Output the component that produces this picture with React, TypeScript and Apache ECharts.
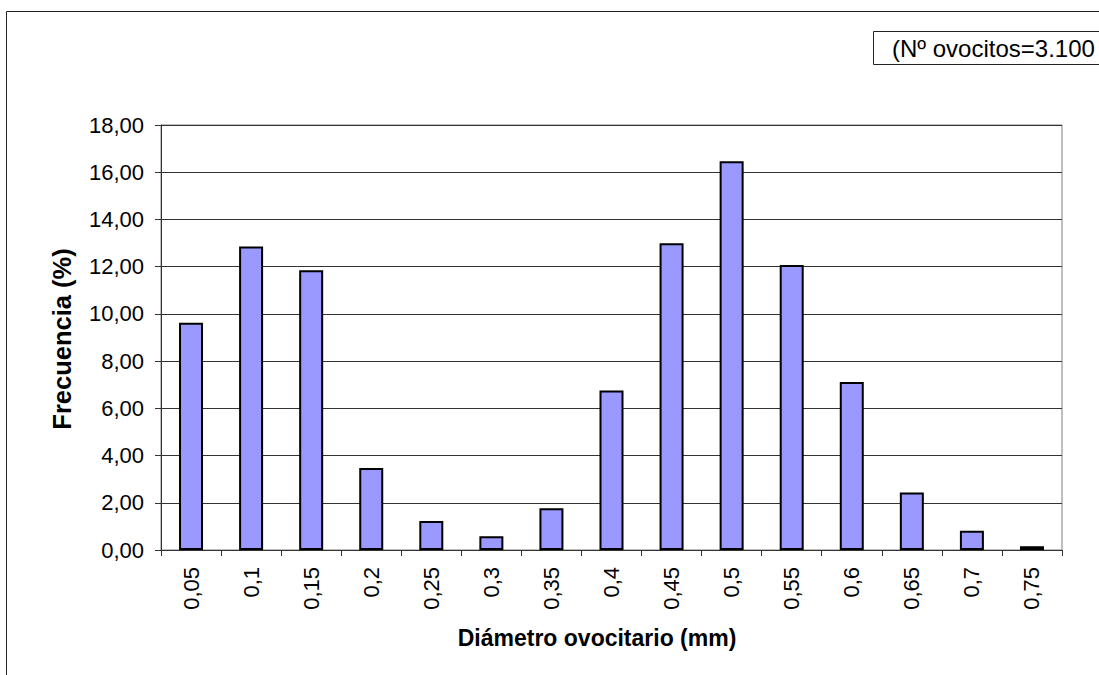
import React, { useEffect, useRef } from "react";
import * as echarts from "echarts";

const categories = ["0,05", "0,1", "0,15", "0,2", "0,25", "0,3", "0,35", "0,4", "0,45", "0,5", "0,55", "0,6", "0,65", "0,7", "0,75"];
const frecuencia = [9.63, 12.85, 11.85, 3.47, 1.23, 0.58, 1.77, 6.76, 12.99, 16.47, 12.07, 7.12, 2.44, 0.82, 0.16];
const yTicks = { min: 0, max: 18, interval: 2 };
const yAxisTitle = "Frecuencia (%)";
const xAxisTitle = "Diámetro ovocitario (mm)";
const noteText = "(Nº ovocitos=3.100";

const FONT = "Arial, 'Liberation Sans', sans-serif";

export default function App() {
  const ref = useRef<HTMLDivElement>(null);
  useEffect(() => {
    document.body.style.margin = "0";
    if (!ref.current) return;
    const chart = echarts.init(ref.current, undefined, { renderer: "svg" });
    chart.setOption({
      animation: false,
      backgroundColor: "#ffffff",
      textStyle: { fontFamily: FONT, color: "#000" },
      grid: {
        left: 161,
        right: 37,
        top: 125,
        bottom: 125,
        show: true,
        borderColor: "#808080",
        borderWidth: 1,
        backgroundColor: "transparent",
      },
      graphic: [
        {
          type: "rect",
          shape: { x: 6.5, y: 11.5, width: 1300, height: 900 },
          style: { fill: "none", stroke: "#222", lineWidth: 1 },
          silent: true,
          z: 100,
        },
        {
          type: "rect",
          shape: { x: 873.5, y: 31.5, width: 400, height: 33 },
          style: { fill: "#fff", stroke: "#222", lineWidth: 1 },
          silent: true,
          z: 100,
        },
        {
          type: "text",
          x: 892,
          y: 48,
          style: {
            text: noteText,
            fontFamily: FONT,
            fontSize: 24,
            fill: "#000",
            verticalAlign: "middle",
            align: "left",
          },
          silent: true,
          z: 101,
        },
        {
          type: "text",
          x: 597,
          y: 638,
          style: {
            text: xAxisTitle,
            fontFamily: FONT,
            fontSize: 23,
            fontWeight: "bold",
            fill: "#000",
            verticalAlign: "middle",
            align: "center",
          },
          silent: true,
          z: 101,
        },
        {
          type: "text",
          x: 62,
          y: 339,
          rotation: Math.PI / 2,
          style: {
            text: yAxisTitle,
            fontFamily: FONT,
            fontSize: 25.5,
            fontWeight: "bold",
            fill: "#000",
            verticalAlign: "middle",
            align: "center",
          },
          silent: true,
          z: 101,
        },
      ],
      xAxis: {
        type: "category",
        data: categories,
        axisLine: { lineStyle: { color: "#333", width: 1 } },
        axisTick: { show: true, length: 6, lineStyle: { color: "#333" } },
        axisLabel: { rotate: 90, margin: 17, fontFamily: FONT, fontSize: 22, color: "#000" },
      },
      yAxis: {
        type: "value",
        min: yTicks.min,
        max: yTicks.max,
        interval: yTicks.interval,
        axisLine: { show: true, lineStyle: { color: "#333", width: 1 } },
        axisTick: { show: true, length: 6, lineStyle: { color: "#333" } },
        axisLabel: {
          margin: 17,
          fontFamily: FONT,
          fontSize: 22,
          color: "#000",
          formatter: (v: number) => v.toFixed(2).replace(".", ","),
        },
        splitLine: { show: true, lineStyle: { color: "#333", width: 1 } },
      },
      series: [
        {
          type: "bar",
          data: frecuencia,
          barWidth: 24,
          itemStyle: { color: "#9999ff", borderColor: "#000", borderWidth: 2 },
        },
      ],
    });
    return () => chart.dispose();
  }, []);
  return <div ref={ref} style={{ width: 1099, height: 675 }} />;
}
